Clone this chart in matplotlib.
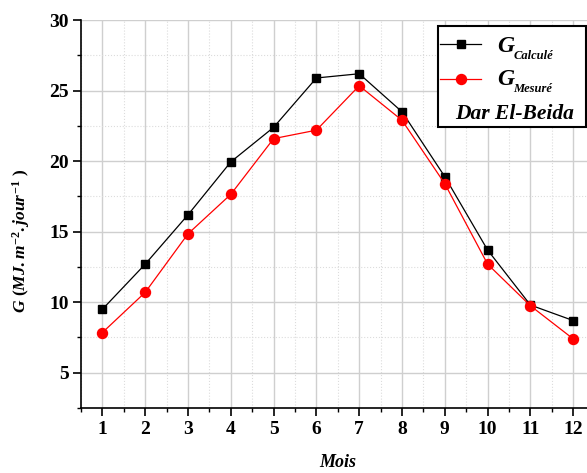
import numpy as np
import matplotlib.pyplot as plt
from matplotlib.patches import Rectangle
from matplotlib.ticker import MultipleLocator

plt.rcParams['font.family'] = 'Liberation Serif'
plt.rcParams['font.weight'] = 'bold'
plt.rcParams['mathtext.fontset'] = 'custom'
plt.rcParams['mathtext.it'] = 'Liberation Serif:italic:bold'
plt.rcParams['mathtext.rm'] = 'Liberation Serif:bold'
plt.rcParams['mathtext.bf'] = 'Liberation Serif:bold'

# monthly global irradiation, Dar El-Beida
mois = [1, 2, 3, 4, 5, 6, 7, 8, 9, 10, 11, 12]
g_calcule = [9.5, 12.7, 16.2, 19.95, 22.4, 25.9, 26.2, 23.5, 18.9, 13.7, 9.8, 8.7]
g_mesure = [7.85, 10.7, 14.85, 17.65, 21.6, 22.2, 25.35, 22.9, 18.4, 12.7, 9.75, 7.4]
noms = ['Calculé', 'Mesuré']

fig = plt.figure(figsize=(5.87, 4.73), dpi=100)
ax = fig.add_axes([0.138, 0.1374, 0.875, 0.820])

l1, = ax.plot(mois, g_calcule, color='black', lw=0.9, marker='s', ms=6, zorder=3)
l2, = ax.plot(mois, g_mesure, color='red', lw=0.9, marker='o', ms=7.2, zorder=3)

ax.set_xlim(0.5, 12.5)
ax.set_ylim(2.5, 30)
ax.set_xticks(mois)
ax.set_yticks([5, 10, 15, 20, 25, 30])
ax.xaxis.set_minor_locator(MultipleLocator(0.5))
ax.yaxis.set_minor_locator(MultipleLocator(2.5))
ax.tick_params(which='major', direction='out', length=6, width=1.2, labelsize=14, pad=3)
ax.tick_params(which='minor', direction='out', length=3, width=1)

ax.grid(which='major', color='#cfcfcf', lw=1, ls='-')
ax.grid(which='minor', color='#dcdcdc', lw=0.8, ls=':')
ax.set_axisbelow(True)

for s in ['top', 'right']:
    ax.spines[s].set_visible(False)
for s in ['left', 'bottom']:
    ax.spines[s].set_linewidth(1.2)

ax.set_xlabel('Mois', fontsize=13, style='italic', fontweight='bold', labelpad=12)
ax.set_ylabel(r'$G\ (MJ.m^{-2}.jour^{-1}\ )$', fontsize=12.5)
ax.yaxis.set_label_coords(-0.095, 0.43)

# legend box with station name
ax.add_patch(Rectangle((0.695, 0.724), 0.288, 0.261, transform=ax.transAxes,
                       facecolor='white', edgecolor='black', lw=1.5,
                       clip_on=False, zorder=4))
leg = ax.legend([l1, l2], [' ', ' '], loc='upper left', bbox_to_anchor=(0.699, 0.959),
                frameon=False, fontsize=17, handlelength=1.75, handletextpad=0,
                labelspacing=0.55, borderpad=0, borderaxespad=0)
leg.set_zorder(5)
for i, nom in enumerate(noms):
    yb = 0.9175 - i * 0.085
    ax.text(0.810, yb, 'G', transform=ax.transAxes, va='baseline', fontsize=17,
            style='italic', fontweight='bold', zorder=6)
    ax.text(0.842, yb - 0.018, nom, transform=ax.transAxes, va='baseline', fontsize=9,
            style='italic', fontweight='bold', zorder=6)
ax.text(0.728, 0.745, 'Dar El-Beida', transform=ax.transAxes, va='baseline',
        fontsize=15.5, style='italic', fontweight='bold', zorder=6)

fig.savefig('out.png', dpi=100)
